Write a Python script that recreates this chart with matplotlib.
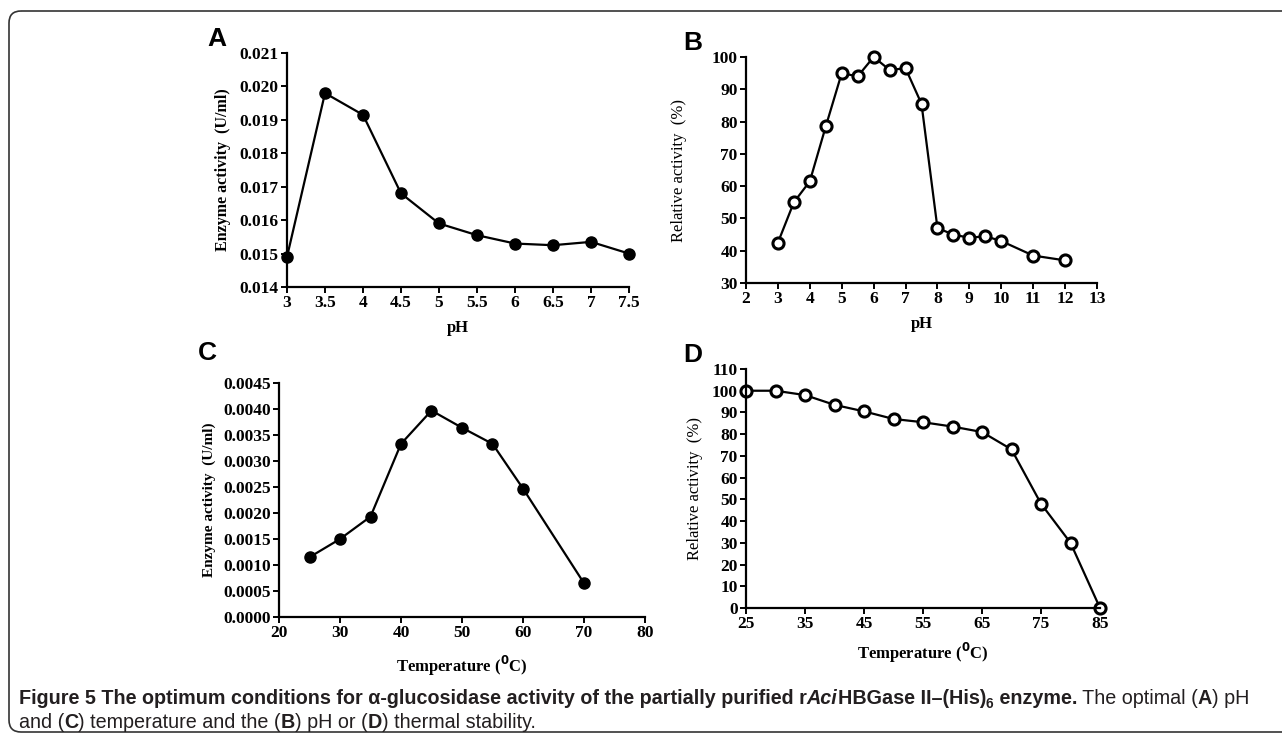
import matplotlib
matplotlib.use('Agg')
import matplotlib.pyplot as plt
from matplotlib.patches import FancyBboxPatch
from matplotlib.ticker import FormatStrFormatter

# panel A: optimal pH
ph_a = [3, 3.5, 4, 4.5, 5, 5.5, 6, 6.5, 7, 7.5]
act_a = [0.0149, 0.0198, 0.01915, 0.0168, 0.0159, 0.01555, 0.0153, 0.01525, 0.01535, 0.0150]

# panel B: pH stability
ph_b = [3, 3.5, 4, 4.5, 5, 5.5, 6, 6.5, 7, 7.5, 8, 8.5, 9, 9.5, 10, 11, 12]
rel_b = [42.5, 55, 61.5, 78.5, 95, 94, 100, 96, 96.5, 85.5, 47, 45, 44, 44.5, 43, 38.5, 37]

# panel C: optimal temperature
temp_c = [25, 30, 35, 40, 45, 50, 55, 60, 70]
act_c = [0.00115, 0.0015, 0.00193, 0.00333, 0.00397, 0.00364, 0.00333, 0.00247, 0.00065]

# panel D: thermal stability
temp_d = [25, 30, 35, 40, 45, 50, 55, 60, 65, 70, 75, 80, 85]
rel_d = [100, 100, 98, 93.5, 90.5, 87, 85.5, 83.5, 81, 73, 48, 30, 0]

W, H = 1282, 736
fig = plt.figure(figsize=(W / 100, H / 100), dpi=100)

SERIF = 'Liberation Serif'
CAP_FONT = ['Liberation Sans Narrow', 'Liberation Sans', 'DejaVu Sans']


def px_axes(left, top, right, bottom):
    return fig.add_axes([left / W, 1 - bottom / H, (right - left) / W, (bottom - top) / H])


def style(ax):
    for s in ['top', 'right']:
        ax.spines[s].set_visible(False)
    for s in ['left', 'bottom']:
        ax.spines[s].set_linewidth(1.6)
    ax.tick_params(direction='out', length=4, width=1.4, pad=2)
    for lab in ax.get_xticklabels() + ax.get_yticklabels():
        lab.set_fontfamily(SERIF)
        lab.set_fontweight('bold')
        lab.set_fontsize(12.5)
    ax.patch.set_alpha(0)


# background with rounded frame
bg = fig.add_axes([0, 0, 1, 1], zorder=-10)
bg.set_xlim(0, W)
bg.set_ylim(H, 0)
bg.axis('off')
bg.add_patch(FancyBboxPatch((9, 11), W + 20, 721, boxstyle='round,pad=0,rounding_size=12',
                            fill=False, ec='#333333', lw=1.2))

# A
ax = px_axes(287, 53, 629, 287)
ax.plot(ph_a, act_a, '-o', color='black', lw=1.6, ms=8, mfc='black', clip_on=False)
ax.set_xlim(3, 7.5)
ax.set_ylim(0.014, 0.021)
ax.set_xticks(ph_a)
ax.xaxis.set_major_formatter(FormatStrFormatter('%g'))
ax.set_yticks([0.014, 0.015, 0.016, 0.017, 0.018, 0.019, 0.020, 0.021])
ax.yaxis.set_major_formatter(FormatStrFormatter('%.3f'))
style(ax)
ax.set_xlabel('pH', fontfamily=SERIF, fontweight='bold', fontsize=12, labelpad=6)
ax.set_ylabel('Enzyme activity  (U/ml)', fontfamily=SERIF, fontweight='bold', fontsize=11.5, labelpad=6)

# B
ax = px_axes(746, 57, 1097, 283)
ax.plot(ph_b, rel_b, '-o', color='black', lw=1.6, ms=8, mfc='white', mec='black', mew=2.2, clip_on=False)
ax.set_xlim(2, 13)
ax.set_ylim(30, 100)
ax.set_xticks(range(2, 14))
ax.set_yticks(range(30, 101, 10))
style(ax)
ax.set_xlabel('pH', fontfamily=SERIF, fontweight='bold', fontsize=12, labelpad=6)
ax.set_ylabel('Relative activity  (%)', fontfamily=SERIF, fontsize=12, labelpad=18)

# C
ax = px_axes(279, 383, 645, 617)
ax.plot(temp_c, act_c, '-o', color='black', lw=1.6, ms=8, mfc='black', clip_on=False)
ax.set_xlim(20, 80)
ax.set_ylim(0, 0.0045)
ax.set_xticks(range(20, 81, 10))
ax.set_yticks([i * 0.0005 for i in range(10)])
ax.yaxis.set_major_formatter(FormatStrFormatter('%.4f'))
style(ax)
ax.set_xlabel('Temperature ($^{\\mathbf{0}}$C)', fontfamily=SERIF, fontweight='bold', fontsize=12, labelpad=9)
ax.set_ylabel('Enzyme activity  (U/ml)', fontfamily=SERIF, fontweight='bold', fontsize=11, labelpad=5)

# D
ax = px_axes(746, 369, 1100, 608)
ax.plot(temp_d, rel_d, '-o', color='black', lw=1.6, ms=8, mfc='white', mec='black', mew=2.2, clip_on=False)
ax.set_xlim(25, 85)
ax.set_ylim(0, 110)
ax.set_xticks(range(25, 86, 10))
ax.set_yticks(range(0, 111, 10))
style(ax)
ax.set_xlabel('Temperature ($^{\\mathbf{0}}$C)', fontfamily=SERIF, fontweight='bold', fontsize=12, labelpad=6)
ax.set_ylabel('Relative activity  (%)', fontfamily=SERIF, fontsize=12, labelpad=6)

# panel letters
for letter, x, y in [('A', 207, 46), ('B', 683, 50), ('C', 198, 360), ('D', 683, 362)]:
    bg.text(x, y, letter, fontsize=19, fontweight='bold', fontfamily='Liberation Sans', va='baseline')

# caption built from runs of text
renderer = fig.canvas.get_renderer()
CAP_SIZE = 14.2


def run_line(parts, x, y):
    for txt, weight, style_, dy, size in parts:
        t = bg.text(x, y + dy, txt, fontsize=size, fontweight=weight, fontstyle=style_,
                    fontfamily=CAP_FONT, color='#231f20', va='baseline')
        x += t.get_window_extent(renderer).width


line1 = [
    ('Figure 5 The optimum conditions for α-glucosidase activity of the partially purified r', 'bold', 'normal', 0, CAP_SIZE),
    ('Aci', 'bold', 'italic', 0, CAP_SIZE),
    ('HBGase II–(His)', 'bold', 'normal', 0, CAP_SIZE),
    ('6', 'bold', 'normal', 4, CAP_SIZE * 0.7),
    (' enzyme.', 'bold', 'normal', 0, CAP_SIZE),
    (' The optimal (', 'normal', 'normal', 0, CAP_SIZE),
    ('A', 'bold', 'normal', 0, CAP_SIZE),
    (') pH', 'normal', 'normal', 0, CAP_SIZE),
]
line2 = [
    ('and (', 'normal', 'normal', 0, CAP_SIZE),
    ('C', 'bold', 'normal', 0, CAP_SIZE),
    (') temperature and the (', 'normal', 'normal', 0, CAP_SIZE),
    ('B', 'bold', 'normal', 0, CAP_SIZE),
    (') pH or (', 'normal', 'normal', 0, CAP_SIZE),
    ('D', 'bold', 'normal', 0, CAP_SIZE),
    (') thermal stability.', 'normal', 'normal', 0, CAP_SIZE),
]
run_line(line1, 19, 704)
run_line(line2, 19, 728)

fig.savefig('out.png', dpi=100)
